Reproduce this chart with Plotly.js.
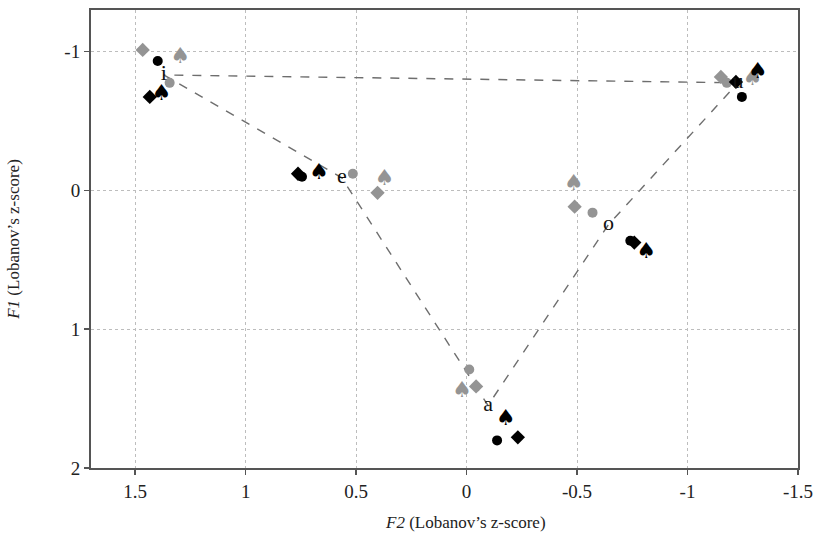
<!DOCTYPE html>
<html>
<head>
<meta charset="utf-8">
<script src="https://cdn.plot.ly/plotly-3.0.1.min.js"></script>
<style>html,body{margin:0;padding:0;background:#fff;}#chart{width:814px;height:536px;}</style>
</head>
<body>
<div id="chart"></div>
<script>
// Vowel order: i, e, a, o, u
const vowels = ["i", "e", "a", "o", "u"];

// Vowel means (dashed triangle vertices / labels)
const meanF2 = [1.371, 0.565, -0.097, -0.642, -1.228];
const meanF1 = [-0.832, -0.091, 1.549, 0.247, -0.775];

// Black series
const blackCircleF2 = [1.398, 0.745, -0.138, -0.741, -1.246];
const blackCircleF1 = [-0.933, -0.099, 1.801, 0.362, -0.674];
const blackDiamondF2 = [1.434, 0.763, -0.232, -0.759, -1.219];
const blackDiamondF1 = [-0.674, -0.120, 1.779, 0.376, -0.782];
const blackSpadeF2 = [1.380, 0.668, -0.178, -0.814, -1.318];
const blackSpadeF1 = [-0.688, -0.120, 1.650, 0.448, -0.847];

// Gray series
const grayCircleF2 = [1.344, 0.515, -0.012, -0.570, -1.178];
const grayCircleF1 = [-0.775, -0.120, 1.290, 0.160, -0.775];
const grayDiamondF2 = [1.466, 0.403, -0.043, -0.489, -1.151];
const grayDiamondF1 = [-1.012, 0.017, 1.412, 0.117, -0.818];
const graySpadeF2 = [1.295, 0.371, 0.020, -0.485, -1.295];
const graySpadeF1 = [-0.955, -0.077, 1.448, -0.041, -0.796];

const xTickVals = [1.5, 1, 0.5, 0, -0.5, -1, -1.5];
const xTickText = ["1.5", "1", "0.5", "0", "-0.5", "-1", "-1.5"];
const yTickVals = [-1, 0, 1, 2];
const yTickText = ["-1", "0", "1", "2"];

const BLACK = "#000000";
const GRAY = "#949494";
const serif = "Liberation Serif, Times New Roman, serif";
const SPADE = "\u2660\uFE0E";

// Triangle path: i -> e -> a -> o -> u -> i
const order = [0, 1, 2, 3, 4, 0];
const traces = [
  {
    x: order.map(k => meanF2[k]), y: order.map(k => meanF1[k]),
    mode: "lines", type: "scatter", hoverinfo: "skip",
    line: {color: "#6e6e6e", width: 1.4, dash: "dash"}
  },
  {x: grayDiamondF2, y: grayDiamondF1, mode: "markers", type: "scatter",
   marker: {symbol: "diamond", size: 11, color: GRAY}},
  {x: grayCircleF2, y: grayCircleF1, mode: "markers", type: "scatter",
   marker: {symbol: "circle", size: 10, color: GRAY}},
  {x: graySpadeF2, y: graySpadeF1, mode: "text", type: "scatter",
   text: graySpadeF2.map(() => SPADE), textposition: "middle center",
   textfont: {family: "DejaVu Sans", size: 22, color: GRAY}},
  {x: blackDiamondF2, y: blackDiamondF1, mode: "markers", type: "scatter",
   marker: {symbol: "diamond", size: 11, color: BLACK}},
  {x: blackCircleF2, y: blackCircleF1, mode: "markers", type: "scatter",
   marker: {symbol: "circle", size: 10, color: BLACK}},
  {x: blackSpadeF2, y: blackSpadeF1, mode: "text", type: "scatter",
   text: blackSpadeF2.map(() => SPADE), textposition: "middle center",
   textfont: {family: "DejaVu Sans", size: 22, color: BLACK}},
  {x: meanF2, y: meanF1, mode: "text", type: "scatter",
   text: vowels, textposition: "middle center",
   textfont: {family: serif, size: 22, color: "#111"}}
];

const axisCommon = {
  showline: true, mirror: true, linecolor: "#555", linewidth: 2,
  ticks: "outside", ticklen: 5, tickwidth: 1.5, tickcolor: "#555",
  showgrid: true, gridcolor: "#bdbdbd", griddash: "dot", gridwidth: 1,
  zeroline: false, ticklabeloverflow: "allow",
  tickfont: {family: serif, size: 19, color: "#222"}
};

const layout = {
  width: 814, height: 536,
  margin: {l: 91, r: 16, t: 10, b: 68},
  paper_bgcolor: "#fff", plot_bgcolor: "#fff",
  showlegend: false,
  xaxis: Object.assign({}, axisCommon, {
    range: [1.7, -1.5], tickmode: "array", tickvals: xTickVals, ticktext: xTickText
  }),
  yaxis: Object.assign({}, axisCommon, {
    range: [2, -1.3], tickmode: "array", tickvals: yTickVals, ticktext: yTickText,
    title: {text: "<i>F1</i> (Lobanov’s z-score)", font: {family: serif, size: 17, color: "#222"}, standoff: 40}
  }),
  annotations: [{
    text: "<i>F2</i> (Lobanov’s z-score)", xref: "paper", yref: "paper",
    x: 0.53, y: 0, yshift: -54, xanchor: "center", yanchor: "middle",
    showarrow: false, font: {family: serif, size: 17, color: "#222"}
  }]
};

Plotly.newPlot("chart", traces, layout, {displayModeBar: false, staticPlot: true});
</script>
</body>
</html>
